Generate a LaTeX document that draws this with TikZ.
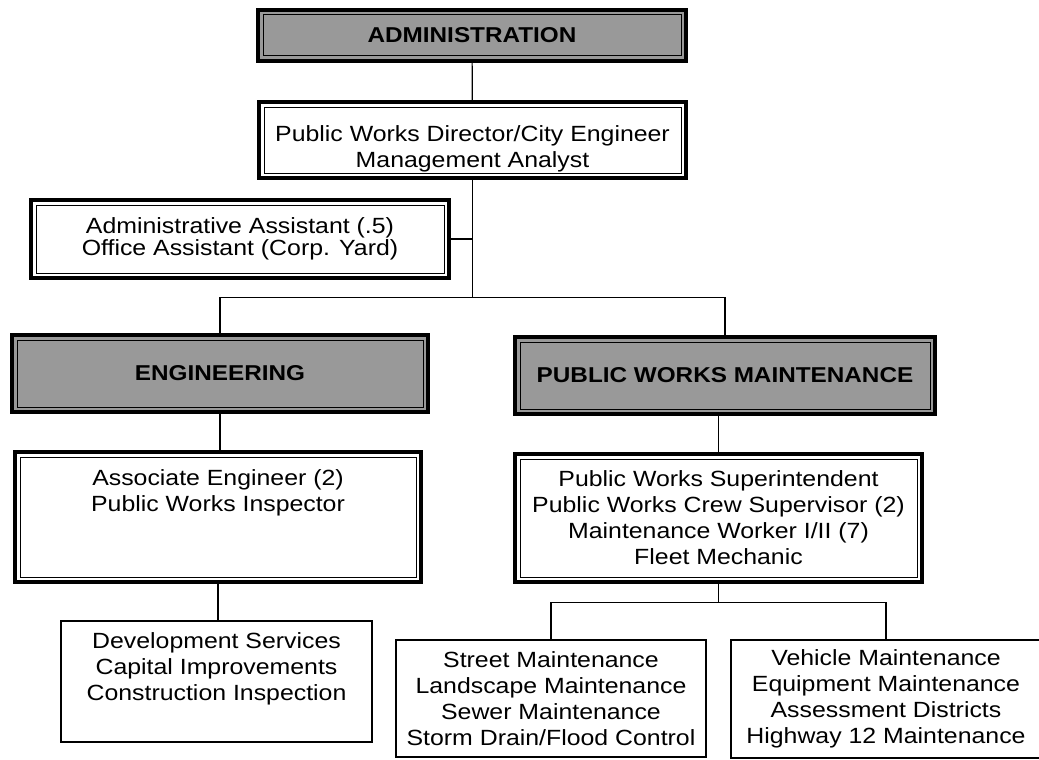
\documentclass[tikz,border=0pt]{standalone}
\usepackage{fontspec}
\setmainfont{Liberation Sans}[FakeStretch=1.13]
\begin{document}
\begin{tikzpicture}[x=1pt,y=-1pt,
    dbox/.style={draw,line width=3.5pt,align=center,inner sep=0pt,font=\fontsize{22}{26}\selectfont,
      path picture={\draw[line width=1pt] ([shift={(5pt,5pt)}]path picture bounding box.south west) rectangle ([shift={(-5pt,-5pt)}]path picture bounding box.north east);}},
    head/.style={dbox,fill=black!40,font=\fontsize{21.5}{25}\bfseries\selectfont},
    unit/.style={draw,line width=1.6pt,align=center,inner sep=0pt,font=\fontsize{22}{26}\selectfont},
    link/.style={line width=1.2pt}]
    \useasboundingbox[fill=white] (0,0) rectangle (1039,760);
    \node[head,minimum width=428pt,minimum height=51pt] (adm) at (472,35.5) {ADMINISTRATION};
    \node[dbox,minimum width=427pt,minimum height=76pt,text height=60pt] (dir) at (472.5,140) {Public Works Director/City Engineer\\Management Analyst};
    \node[dbox,minimum width=418pt,minimum height=78pt,font=\fontsize{22}{22}\selectfont] (asst) at (240,239) {Administrative Assistant (.5)\\Office Assistant (Corp. Yard)};
    \node[head,minimum width=416pt,minimum height=77pt] (eng) at (220,373.5) {ENGINEERING};
    \node[head,minimum width=420pt,minimum height=77pt] (pwm) at (725,375.5) {PUBLIC WORKS MAINTENANCE};
    \node[dbox,minimum width=406pt,minimum height=130pt,text depth=53pt] (assoc) at (218,517) {Associate Engineer (2)\\Public Works Inspector};
    \node[dbox,minimum width=407pt,minimum height=128pt] (pws) at (718.5,518) {Public Works Superintendent\\Public Works Crew Supervisor (2)\\Maintenance Worker I/II (7)\\Fleet Mechanic};
    \node[unit,minimum width=311pt,minimum height=121pt,text depth=29pt] (dev) at (216.5,681.5) {Development Services\\Capital Improvements\\Construction Inspection};
    \node[unit,minimum width=310pt,minimum height=117pt] (street) at (551,698.5) {Street Maintenance\\Landscape Maintenance\\Sewer Maintenance\\Storm Drain/Flood Control};
    \node[unit,minimum width=310pt,minimum height=118pt] (veh) at (886,699) {Vehicle Maintenance\\Equipment Maintenance\\Assessment Districts\\Highway 12 Maintenance};
    \draw[link] (adm) -- (dir);
    \draw[link] (dir.south) -- ++(0,118) coordinate (split);
    \draw[link] (asst.east) -- (asst.east -| dir.south);
    \draw[link] (eng.north) |- (split) -| (pwm.north);
    \draw[link] (eng.south) -- (eng.south |- assoc.north);
    \draw[link] (pws.north |- pwm.south) -- (pws.north);
    \draw[link] (assoc.south) -- (assoc.south |- dev.north);
    \draw[link] (pws.south) -- ++(0,19) coordinate (fork);
    \draw[link] (street.north) |- (fork) -| (veh.north);
\end{tikzpicture}
\end{document}
